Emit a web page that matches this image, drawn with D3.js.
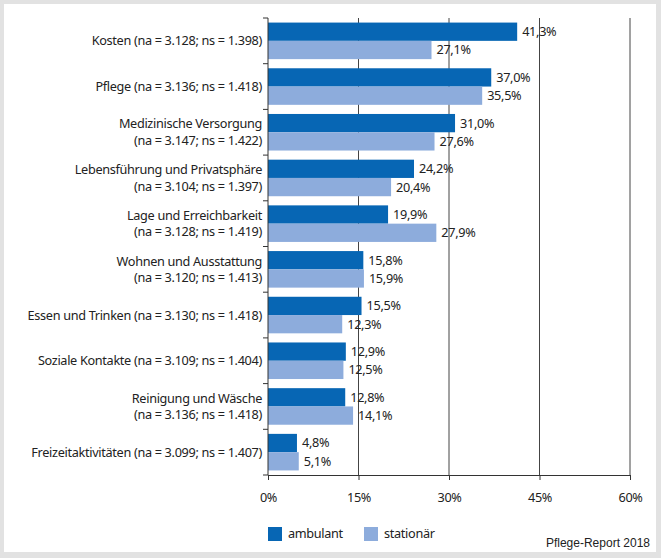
<!DOCTYPE html>
<html><head><meta charset="utf-8">
<script src="https://cdn.jsdelivr.net/npm/d3@7"></script>
<style>
html,body{margin:0;padding:0;background:#fff;}
svg{display:block;}
</style></head>
<body>
<script>
const categories = [
  ["Kosten (na = 3.128; ns = 1.398)"],
  ["Pflege (na = 3.136; ns = 1.418)"],
  ["Medizinische Versorgung", "(na = 3.147; ns = 1.422)"],
  ["Lebensführung und Privatsphäre", "(na = 3.104; ns = 1.397)"],
  ["Lage und Erreichbarkeit", "(na = 3.128; ns = 1.419)"],
  ["Wohnen und Ausstattung", "(na = 3.120; ns = 1.413)"],
  ["Essen und Trinken (na = 3.130; ns = 1.418)"],
  ["Soziale Kontakte (na = 3.109; ns = 1.404)"],
  ["Reinigung und Wäsche", "(na = 3.136; ns = 1.418)"],
  ["Freizeitaktivitäten (na = 3.099; ns = 1.407)"]
];
const ambulant = [41.3, 37.0, 31.0, 24.2, 19.9, 15.8, 15.5, 12.9, 12.8, 4.8];
const stationaer = [27.1, 35.5, 27.6, 20.4, 27.9, 15.9, 12.3, 12.5, 14.1, 5.1];
const seriesNames = ["ambulant", "stationär"];
const xTicks = [0, 15, 30, 45, 60];
const source = "Pflege-Report 2018";

const W = 661, H = 558;
const colors = ["#0766b4", "#8dacdc"];
const font = "'Noto Sans', 'Open Sans', sans-serif";
const fs = 12.7;
const ls = "-0.32px";

const svg = d3.select("body").append("svg").attr("width", W).attr("height", H);
svg.append("rect").attr("width", W).attr("height", H).attr("fill", "#e2e2e2");
svg.append("rect").attr("x", 4).attr("y", 4).attr("width", W - 9).attr("height", H - 10).attr("fill", "#fff");

const x = d3.scaleLinear().domain([0, 60]).range([268, 630]);
const y = d3.scaleBand().domain(d3.range(categories.length)).range([18, 475]).paddingInner(0.2).paddingOuter(0.1);
const inner = d3.scaleBand().domain([0, 1]).range([0, y.bandwidth()]);

// grid lines
svg.append("g").selectAll("line").data(xTicks.slice(1)).join("line")
  .attr("x1", d => x(d)).attr("x2", d => x(d)).attr("y1", 18).attr("y2", 475)
  .attr("stroke", "#444").attr("stroke-width", 1);

// bars
const groups = svg.append("g").selectAll("g").data(categories).join("g")
  .attr("transform", (d, i) => `translate(0,${y(i)})`);
[ambulant, stationaer].forEach((vals, s) => {
  groups.append("rect")
    .attr("x", x(0))
    .attr("y", inner(s))
    .attr("width", (d, i) => x(vals[i]) - x(0))
    .attr("height", inner.bandwidth())
    .attr("fill", colors[s]);
  groups.append("text")
    .attr("x", (d, i) => x(vals[i]) + 5)
    .attr("y", inner(s) + inner.bandwidth() / 2)
    .attr("dy", "0.35em")
    .attr("font-family", font).attr("font-size", fs).attr("letter-spacing", ls).attr("fill", "#222")
    .text((d, i) => vals[i].toFixed(1).replace(".", ",") + "%");
});

// x axis
const xAxis = svg.append("g").attr("transform", "translate(0,475)")
  .call(d3.axisBottom(x).tickValues(xTicks).tickFormat(d => d + "%").tickSize(5).tickSizeOuter(0));
xAxis.select(".domain").attr("stroke", "#333");
xAxis.selectAll(".tick line").attr("stroke", "#333");
xAxis.selectAll("text").attr("font-family", font).attr("font-size", fs).attr("letter-spacing", ls).attr("fill", "#222").attr("dy", "1.5em");

// y axis line and ticks at band boundaries
svg.append("line").attr("x1", x(0)).attr("x2", x(0)).attr("y1", 18).attr("y2", 475).attr("stroke", "#333");
const bounds = d3.range(categories.length + 1).map(i => 18 + i * y.step());
svg.append("g").selectAll("line").data(bounds).join("line")
  .attr("x1", x(0) - 5).attr("x2", x(0)).attr("y1", d => d).attr("y2", d => d).attr("stroke", "#333");

// category labels
const lab = svg.append("g").selectAll("text").data(categories).join("text")
  .attr("text-anchor", "end")
  .attr("font-family", font).attr("font-size", fs).attr("letter-spacing", ls).attr("fill", "#222")
  .attr("transform", (d, i) => `translate(${x(0) - 6},${y(i) + y.bandwidth() / 2})`);
lab.each(function(lines) {
  const t = d3.select(this);
  const lh = 16.5;
  lines.forEach((ln, k) => {
    t.append("tspan").attr("x", 0)
      .attr("y", (k - (lines.length - 1) / 2) * lh)
      .attr("dy", "0.35em").text(ln);
  });
});

// legend
const leg = svg.append("g");
const legX = [268, 364];
seriesNames.forEach((n, s) => {
  leg.append("rect").attr("x", legX[s]).attr("y", 527).attr("width", 14).attr("height", 14).attr("fill", colors[s]);
  leg.append("text").attr("x", legX[s] + 20).attr("y", 534).attr("dy", "0.35em")
    .attr("font-family", font).attr("font-size", fs).attr("letter-spacing", ls).attr("fill", "#222").text(n);
});
svg.append("text").attr("x", 650).attr("y", 547).attr("text-anchor", "end")
  .attr("font-family", "'Liberation Sans', Arial, sans-serif").attr("font-size", 12).attr("fill", "#222").text(source);
</script>
</body></html>
